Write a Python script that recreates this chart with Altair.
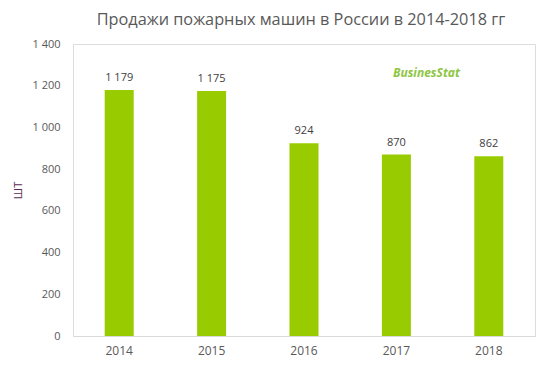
import altair as alt
import pandas as pd

years = ["2014", "2015", "2016", "2017", "2018"]
sales = [1179, 1175, 924, 870, 862]

df = pd.DataFrame({"year": years, "sales": sales})

base = alt.Chart(df)

bars = base.mark_bar(color="#99cc00", size=29).encode(
    x=alt.X("year:N", sort=years, title=None,
            axis=alt.Axis(labelAngle=0, labelColor="#595959", labelFontSize=12,
                          labelPadding=9, ticks=False, domainColor="#d9d9d9",
                          labelFont="Open Sans")),
    y=alt.Y("sales:Q", scale=alt.Scale(domain=[0, 1400]),
            title="ШТ",
            axis=alt.Axis(values=[0, 200, 400, 600, 800, 1000, 1200, 1400], format=",d",
                          grid=False, domain=False, ticks=False, labelPadding=13,
                          labelColor="#595959", labelFontSize=11, labelFont="Open Sans",
                          titleColor="#5a2d4f", titleFontSize=11, titleFontWeight="normal",
                          titleFont="Open Sans", titleX=-50, titleY=146, titleAngle=270)),
)

labels = base.mark_text(baseline="bottom", dy=-7, fontSize=11, color="#404040",
                        font="Open Sans").encode(
    x=alt.X("year:N", sort=years),
    y="sales:Q",
    text=alt.Text("sales:Q", format=",d"),
)

logo = alt.Chart(pd.DataFrame({"t": ["BusinesStat"]})).mark_text(
    align="left", baseline="alphabetic", fontSize=12, fontStyle="italic",
    fontWeight="bold", color="#8dc63f", font="Open Sans"
).encode(x=alt.value(320), y=alt.value(33), text="t:N")

chart = alt.layer(bars, labels, logo).properties(
    width=462, height=292,
    autosize=alt.AutoSizeParams(type="none"),
    padding={"left": 65, "top": 36, "right": 1, "bottom": 26},
    title=alt.Title("Продажи пожарных машин в России в 2014-2018 гг",
                    fontSize=16.3, fontWeight="normal", color="#595959",
                    font="Open Sans", anchor="middle", dx=-3, offset=10),
).configure_view(stroke=None).configure(
    locale={"number": {"decimal": ",", "thousands": " ", "grouping": [3],
                       "currency": ["", ""]}}
)

chart.save("out.html", embed_options={"renderer": "svg", "actions": False})
